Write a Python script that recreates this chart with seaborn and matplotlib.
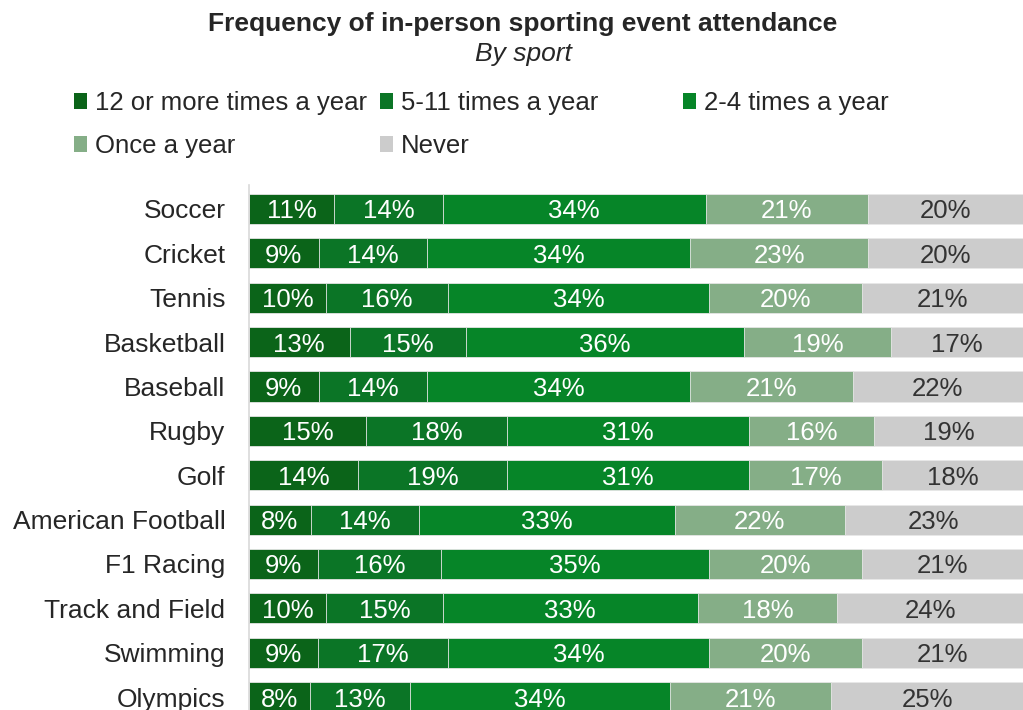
import numpy as np
import pandas as pd
import matplotlib
matplotlib.use("Agg")
import matplotlib.pyplot as plt
import seaborn as sns
from matplotlib.patches import Patch

# data
sports = ['Soccer', 'Cricket', 'Tennis', 'Basketball', 'Baseball', 'Rugby', 'Golf',
          'American Football', 'F1 Racing', 'Track and Field', 'Swimming', 'Olympics']
freq_12_plus = [11, 9, 10, 13, 9, 15, 14, 8, 9, 10, 9, 8]
freq_5_11 = [14, 14, 16, 15, 14, 18, 19, 14, 16, 15, 17, 13]
freq_2_4 = [34, 34, 34, 36, 34, 31, 31, 33, 35, 33, 34, 34]
freq_once = [21, 23, 20, 19, 21, 16, 17, 22, 20, 18, 20, 21]
freq_never = [20, 20, 21, 17, 22, 19, 18, 23, 21, 24, 21, 25]

series = ['12 or more times a year', '5-11 times a year', '2-4 times a year', 'Once a year', 'Never']
colors = ['#0b6419', '#0b7526', '#068528', '#85ae87', '#cccccc']
text_colors = ['white', 'white', 'white', 'white', '#333333']

df = pd.DataFrame({'Sport': sports,
                   series[0]: freq_12_plus,
                   series[1]: freq_5_11,
                   series[2]: freq_2_4,
                   series[3]: freq_once,
                   series[4]: freq_never})

# 100% stacked: normalise each row
vals = df[series].astype(float)
share = vals.div(vals.sum(axis=1), axis=0) * 100
cum = share.cumsum(axis=1)

sns.set_style('white')
plt.rcParams['font.family'] = ['Liberation Sans', 'DejaVu Sans']

fig = plt.figure(figsize=(10.23, 7.10), dpi=100)
ax = fig.add_axes([249 / 1023, 0.0, 1 - 249 / 1023, 1 - 185 / 710])

# draw cumulative bars from the last series to the first so they stack
for s, c in zip(series[::-1], colors[::-1]):
    sns.barplot(x=cum[s].values, y=df['Sport'], color=c, orient='h', width=0.68,
                saturation=1, edgecolor='#e8e8e8', linewidth=0.6, ax=ax)

# segment labels
for i, sp in enumerate(sports):
    left = 0
    for s, tc in zip(series, text_colors):
        w = share.loc[i, s]
        ax.text(left + w / 2, i, f"{int(vals.loc[i, s])}%", ha='center', va='center_baseline',
                fontsize=18.5, color=tc)
        left += w

ax.set_xlim(0, 100)
ax.set_ylim(11.29, -0.54)
ax.set_xlabel('')
ax.set_ylabel('')
ax.set_xticks([])
ax.tick_params(axis='y', length=0, pad=17, labelsize=19, labelcolor='#262626')
for side in ['top', 'right', 'bottom']:
    ax.spines[side].set_visible(False)
ax.spines['left'].set_color('#d9d9d9')
ax.spines['left'].set_linewidth(1.2)

# title
fig.text(523 / 1023, 1 - 24 / 710, 'Frequency of in-person sporting event attendance',
         ha='center', va='center', fontsize=19, fontweight='bold', color='#262626')
fig.text(523 / 1023, 1 - 54 / 710, 'By sport', ha='center', va='center',
         fontsize=19, style='italic', color='#262626')

# legend, row-major in fixed-width columns
handles = [Patch(facecolor=c, edgecolor='none') for c in colors]
cols = [([0, 3], 74), ([1, 4], 380), ([2], 683)]
for idx, x in cols:
    leg = fig.legend([handles[k] for k in idx], [series[k] for k in idx],
                     loc='upper left', bbox_to_anchor=(x / 1023, 1 - 91 / 710),
                     frameon=False, fontsize=18.5, handlelength=0.5, handleheight=0.55,
                     handletextpad=0.3, labelspacing=0.74, borderpad=0, borderaxespad=0,
                     labelcolor='#262626')

fig.savefig('out.png', dpi=100)
